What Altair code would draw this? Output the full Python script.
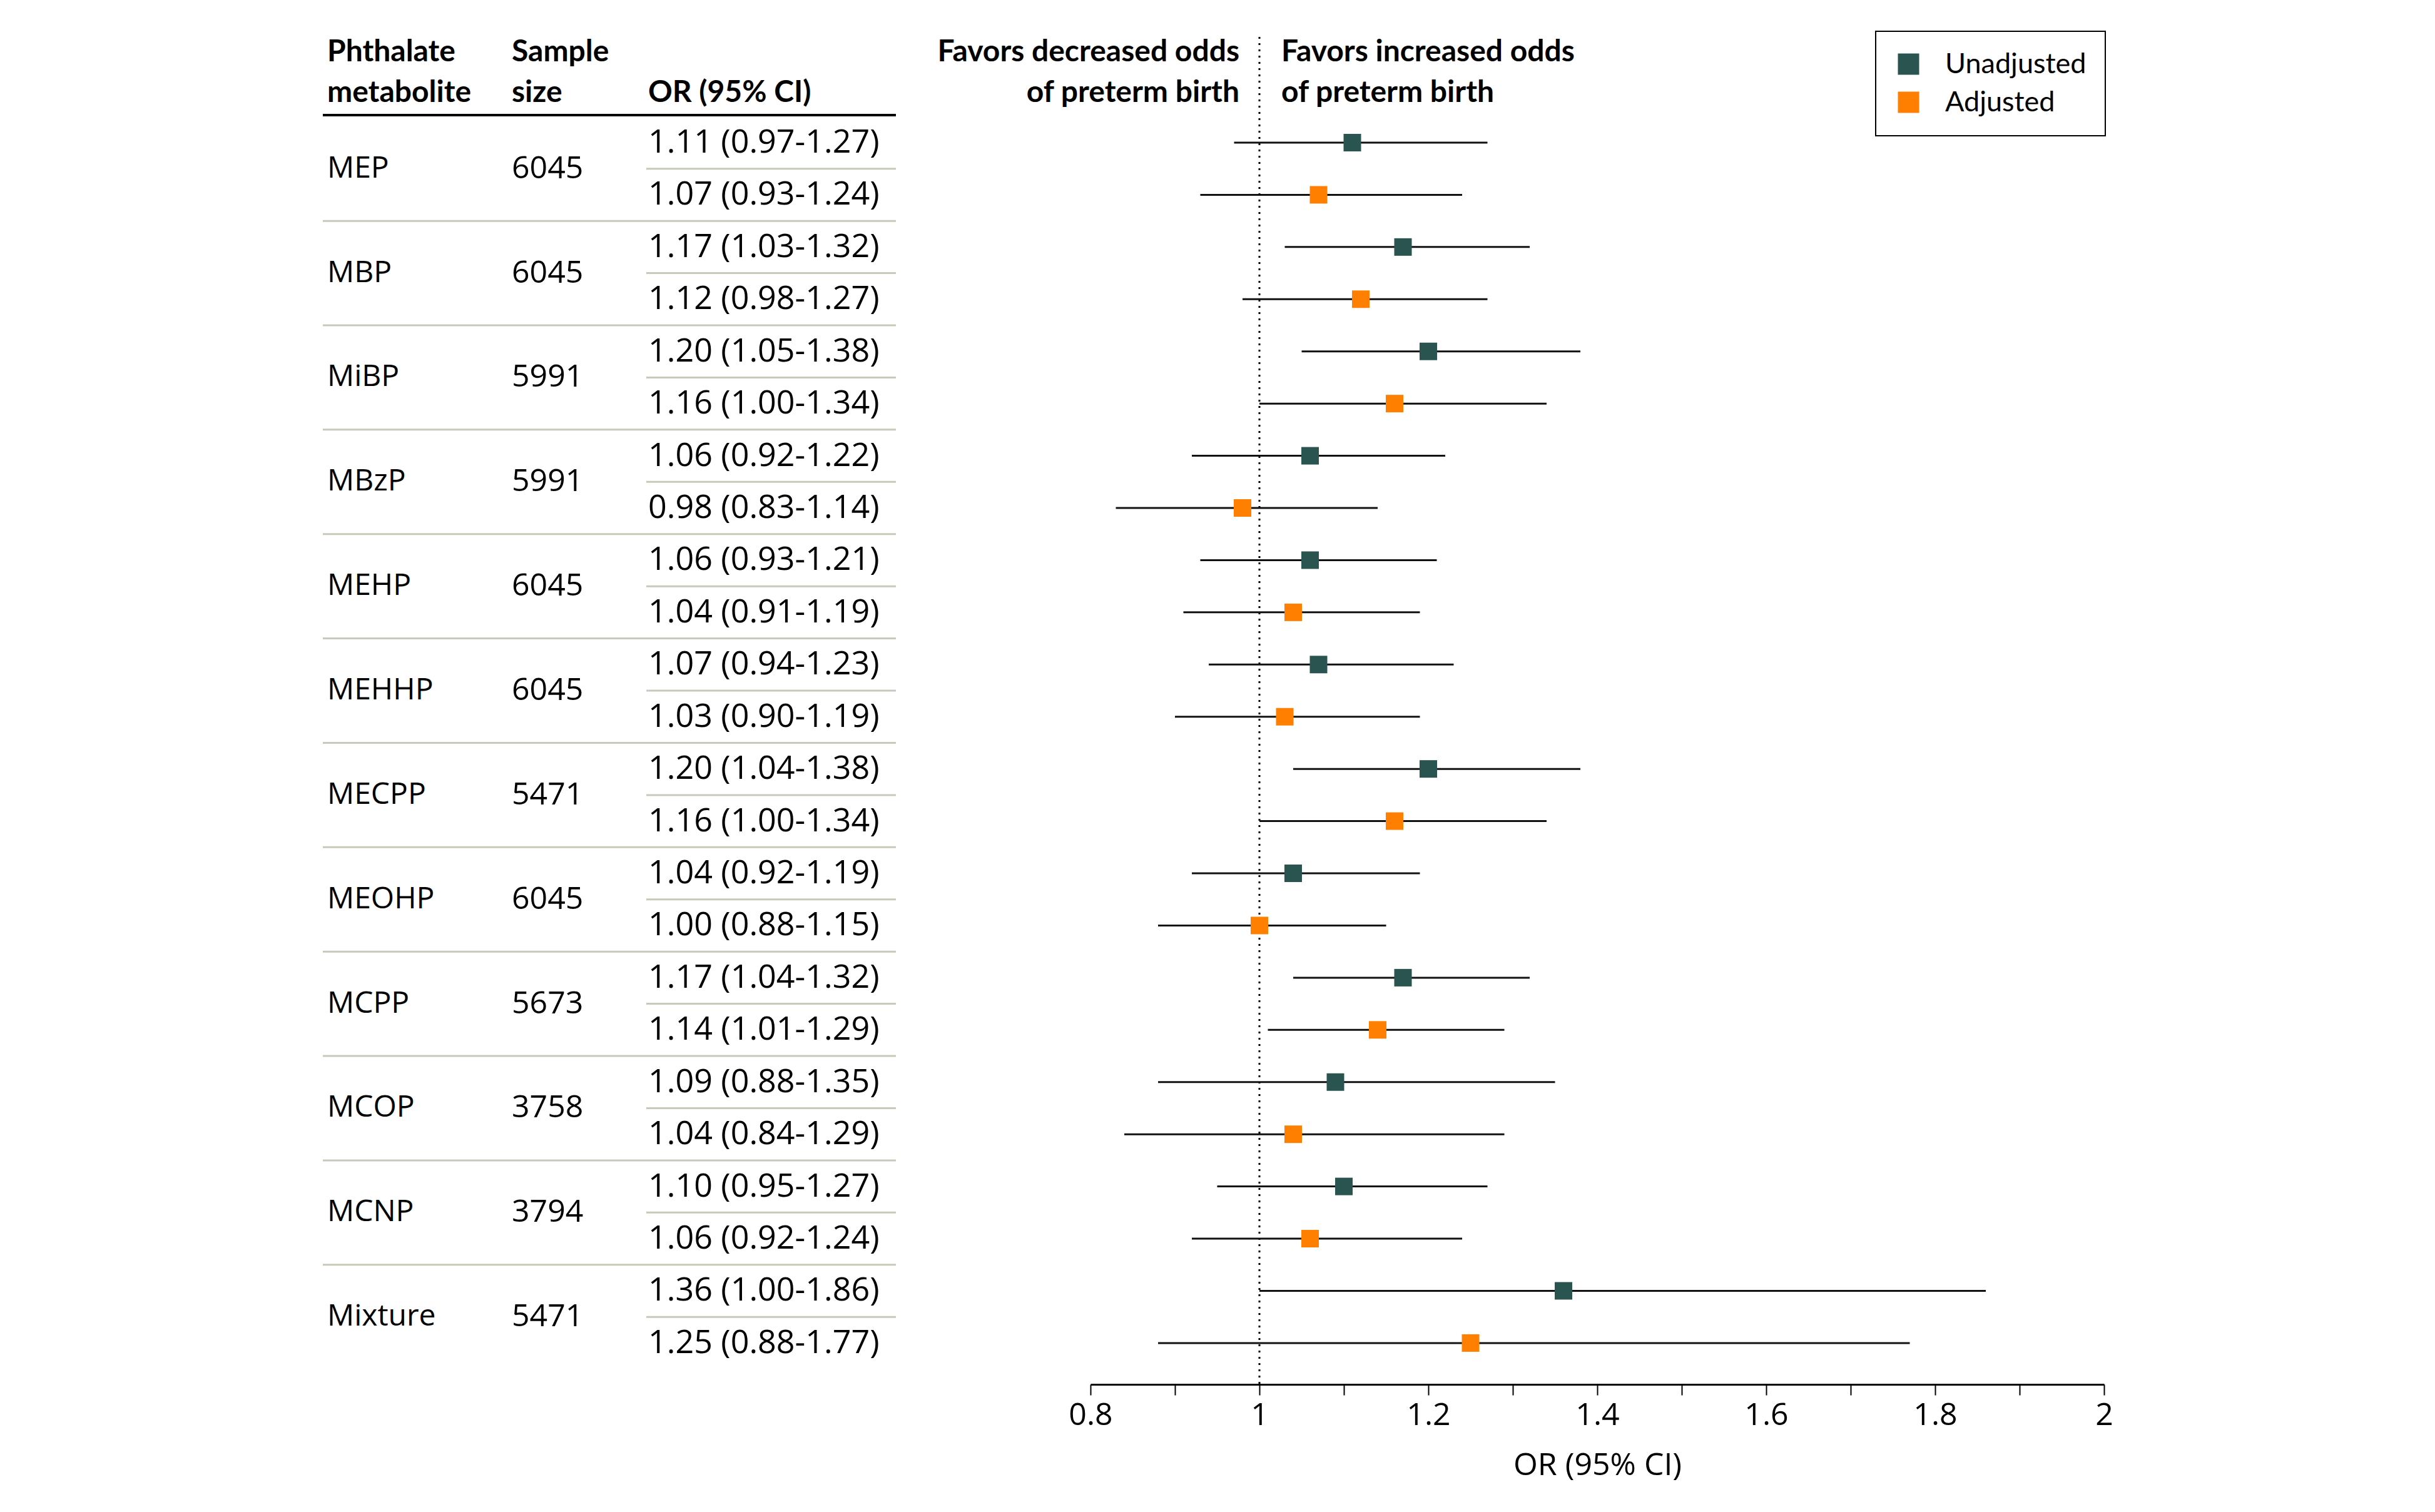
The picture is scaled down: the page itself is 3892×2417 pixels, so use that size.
import altair as alt
import pandas as pd

# ---------------- data ----------------
metabolites = ["MEP", "MBP", "MiBP", "MBzP", "MEHP", "MEHHP", "MECPP", "MEOHP",
               "MCPP", "MCOP", "MCNP", "Mixture"]
sample_sizes = [6045, 6045, 5991, 5991, 6045, 6045, 5471, 6045, 5673, 3758, 3794, 5471]
unadj_or = [1.11, 1.17, 1.20, 1.06, 1.06, 1.07, 1.20, 1.04, 1.17, 1.09, 1.10, 1.36]
unadj_lo = [0.97, 1.03, 1.05, 0.92, 0.93, 0.94, 1.04, 0.92, 1.04, 0.88, 0.95, 1.00]
unadj_hi = [1.27, 1.32, 1.38, 1.22, 1.21, 1.23, 1.38, 1.19, 1.32, 1.35, 1.27, 1.86]
adj_or = [1.07, 1.12, 1.16, 0.98, 1.04, 1.03, 1.16, 1.00, 1.14, 1.04, 1.06, 1.25]
adj_lo = [0.93, 0.98, 1.00, 0.83, 0.91, 0.90, 1.00, 0.88, 1.01, 0.84, 0.92, 0.88]
adj_hi = [1.24, 1.27, 1.34, 1.14, 1.19, 1.19, 1.34, 1.15, 1.29, 1.29, 1.24, 1.77]
models = ["Unadjusted", "Adjusted"]
model_colors = ["#2a5450", "#ff8000"]
x_ticks = [0.8, 0.9, 1.0, 1.1, 1.2, 1.3, 1.4, 1.5, 1.6, 1.7, 1.8, 1.9, 2.0]

# ---------------- tables built from the arrays ----------------
rows = []
for g, name in enumerate(metabolites):
    for m, (o, lo, hi) in enumerate([(unadj_or[g], unadj_lo[g], unadj_hi[g]),
                                     (adj_or[g], adj_lo[g], adj_hi[g])]):
        rows.append({"metabolite": name, "model": models[m], "row": 2 * g + m,
                     "or": o, "lo": lo, "hi": hi,
                     "label": f"{o:.2f} ({lo:.2f}-{hi:.2f})"})
df = pd.DataFrame(rows)

groups = pd.DataFrame({"metabolite": metabolites,
                       "n": [str(s) for s in sample_sizes],
                       "row": [2 * g + 0.5 for g in range(len(metabolites))]})
seps = pd.DataFrame({"row": [2 * g + 1.5 for g in range(len(metabolites) - 1)]})
subs = pd.DataFrame({"row": [2 * g + 0.5 for g in range(len(metabolites))]})

# ---------------- layout constants (pixels, relative to plot origin) ----------------
W, H = 1620, 2154
ROW0, ROWSTEP = 169.0, 83.43
Y_TOP = -ROW0 / ROWSTEP
Y_BOT = (H - ROW0) / ROWSTEP
X_COL1, X_COL2, X_COL3 = -1220, -925, -707
TABLE_L, TABLE_R, SUB_L = -1227, -311, -710
FONT = "Open Sans"
HFONT = "Lato"
HFS = 48

xs = alt.Scale(domain=[0.8, 2.0], nice=False, zero=False)
ys = alt.Scale(domain=[Y_BOT, Y_TOP], nice=False, zero=False)
Y = alt.Y("row:Q", scale=ys, axis=None)

base = alt.Chart(df)

# dotted reference line at OR = 1
ref = alt.Chart(pd.DataFrame({"v": [1.0]})).mark_rule(
    color="black", strokeWidth=3, strokeDash=[3, 7]
).encode(x=alt.X("v:Q", scale=xs), y=alt.value(0), y2=alt.value(H))

ci = base.mark_rule(color="#111111", strokeWidth=3).encode(
    x=alt.X("lo:Q", scale=xs,
            axis=alt.Axis(title="OR (95% CI)", values=x_ticks,
                          labelExpr="round(datum.value*10) % 2 == 0 ? format(datum.value, '~g') : ''")),
    x2="hi:Q", y=Y)

pts = base.mark_square(size=784, opacity=1, filled=True).encode(
    x=alt.X("or:Q", scale=xs),
    y=Y,
    color=alt.Color("model:N",
                    scale=alt.Scale(domain=models, range=model_colors),
                    legend=alt.Legend(orient="none", legendX=1255, legendY=-9, title=None,
                                      strokeColor="black", fillColor="white", padding=30,
                                      symbolType="square", symbolSize=1156,
                                      symbolStrokeWidth=0, symbolOpacity=1,
                                      labelFontSize=45, labelFont=HFONT, labelColor="black",
                                      labelOffset=36, rowPadding=15, labelLimit=600)))

# table text
or_text = base.mark_text(align="left", baseline="middle", font=FONT, fontSize=52,
                         color="black").encode(
    x=alt.value(X_COL3), y=Y, text="label:N")
name_text = alt.Chart(groups).mark_text(align="left", baseline="middle", font=FONT,
                                        fontSize=48, color="black").encode(
    x=alt.value(X_COL1), y=Y, text="metabolite:N")
n_text = alt.Chart(groups).mark_text(align="left", baseline="middle", font=FONT,
                                     fontSize=50, color="black").encode(
    x=alt.value(X_COL2), y=Y, text="n:N")

sep_rules = alt.Chart(seps).mark_rule(color="#c6cabb", strokeWidth=3).encode(
    x=alt.value(TABLE_L), x2=alt.value(TABLE_R), y=Y)
sub_rules = alt.Chart(subs).mark_rule(color="#c6cabb", strokeWidth=3).encode(
    x=alt.value(SUB_L), x2=alt.value(TABLE_R), y=Y)

# header
hdr = pd.DataFrame({
    "t": ["Phthalate", "metabolite", "Sample", "size", "OR (95% CI)"],
    "x": [X_COL1, X_COL1, X_COL2, X_COL2, X_COL3],
    "line": [0, 1, 0, 1, 1],
})
hdr_layers = []
for _, r in hdr.iterrows():
    hdr_layers.append(
        alt.Chart(pd.DataFrame({"t": [r["t"]]})).mark_text(
            align="left", baseline="alphabetic", font=HFONT, fontSize=HFS,
            fontWeight="bold", color="black"
        ).encode(x=alt.value(int(r["x"])), y=alt.value(39 + 65 * int(r["line"])), text="t:N"))

head_rule = alt.Chart(pd.DataFrame({"a": [0]})).mark_rule(color="black", strokeWidth=4).encode(
    x=alt.value(TABLE_L), x2=alt.value(TABLE_R), y=alt.value(125))

ann = []
for txt, line, xpos, al in [("Favors decreased odds", 0, 238, "right"),
                            ("of preterm birth", 1, 238, "right"),
                            ("Favors increased odds", 0, 305, "left"),
                            ("of preterm birth", 1, 305, "left")]:
    ann.append(alt.Chart(pd.DataFrame({"t": [txt]})).mark_text(
        align=al, baseline="alphabetic", font=HFONT, fontSize=HFS, fontWeight="bold",
        color="black").encode(x=alt.value(xpos), y=alt.value(39 + 65 * line), text="t:N"))

chart = alt.layer(
    sep_rules, sub_rules, head_rule, *hdr_layers, *ann,
    name_text, n_text, or_text,
    ref, ci, pts
).properties(
    width=W, height=H,
    autosize=alt.AutoSizeParams(type="none"),
    padding={"left": 1735, "top": 51, "right": 300, "bottom": 200},
).configure(font=FONT).configure_view(stroke=None).configure_axis(
    grid=False, domainColor="black", domainWidth=3, tickColor="black", tickWidth=2,
    tickSize=17, labelFont=FONT, labelFontSize=50, labelColor="black", labelPadding=7,
    labelFlush=False, labelOverlap=False,
    titleFont=FONT, titleFontSize=50, titleFontWeight="normal", titleColor="black",
    titlePadding=30
).configure_legend(strokeWidth=2)

chart.save("out.html", embed_options={"renderer": "svg", "actions": False})
